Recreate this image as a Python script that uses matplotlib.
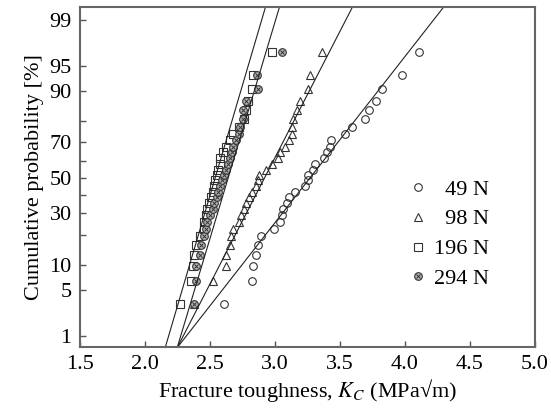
import numpy as np
import matplotlib
matplotlib.use("Agg")
import matplotlib.pyplot as plt
from statistics import NormalDist

plt.rcParams['font.family'] = ['Liberation Serif', 'DejaVu Serif']
plt.rcParams['mathtext.fontset'] = 'stix'

# cumulative probability (%) of each ranked specimen (same ranks for all loads)
cum_prob = [3.2, 6.5, 9.7, 12.9, 16.1, 19.4, 22.6, 25.8, 29.0, 32.3,
            35.5, 38.7, 41.9, 45.2, 48.4, 51.6, 54.8, 58.1, 61.3, 64.5,
            67.7, 71.0, 74.2, 77.4, 80.6, 83.9, 87.1, 90.3, 93.5, 96.8]

# fracture toughness K_C (MPa sqrt(m)), sorted, for each indentation load
kc_49 = [2.61, 2.82, 2.83, 2.85, 2.87, 2.89, 2.99, 3.04, 3.05, 3.06,
         3.09, 3.11, 3.15, 3.23, 3.25, 3.25, 3.29, 3.31, 3.38, 3.40,
         3.42, 3.43, 3.54, 3.59, 3.69, 3.72, 3.78, 3.82, 3.98, 4.11]
kc_98 = [2.38, 2.52, 2.62, 2.62, 2.65, 2.66, 2.68, 2.72, 2.74, 2.76,
         2.78, 2.80, 2.82, 2.85, 2.87, 2.88, 2.93, 2.98, 3.02, 3.04,
         3.08, 3.11, 3.13, 3.13, 3.14, 3.17, 3.19, 3.25, 3.27, 3.36]
kc_196 = [2.27, 2.35, 2.37, 2.38, 2.39, 2.42, 2.45, 2.45, 2.47, 2.48,
          2.49, 2.51, 2.52, 2.53, 2.54, 2.55, 2.56, 2.58, 2.58, 2.60,
          2.62, 2.65, 2.68, 2.72, 2.76, 2.78, 2.79, 2.82, 2.83, 2.98]
kc_294 = [2.38, 2.39, 2.39, 2.42, 2.43, 2.45, 2.47, 2.48, 2.50, 2.52,
          2.53, 2.55, 2.56, 2.58, 2.59, 2.61, 2.62, 2.64, 2.65, 2.67,
          2.68, 2.70, 2.72, 2.73, 2.75, 2.75, 2.78, 2.87, 2.86, 3.05]

labels = ["49 N", "98 N", "196 N", "294 N"]
# fitted distribution lines: mean and spread
fit_mean = [3.27, 2.92, 2.54, 2.64]
fit_sd = [0.409, 0.269, 0.154, 0.157]

nd = NormalDist()
_ppf = np.vectorize(nd.inv_cdf, otypes=[float])
_cdf = np.vectorize(nd.cdf, otypes=[float])


def prob_fwd(p):
    p = np.clip(np.asarray(p, dtype=float), 1e-6, 100 - 1e-6) / 100.0
    return _ppf(p)


def prob_inv(z):
    return _cdf(np.asarray(z, dtype=float)) * 100.0


fig = plt.figure(figsize=(5.51, 4.17), dpi=100)
ax = fig.add_axes([0.1452, 0.1679, 0.8258, 0.8153])
ax.set_yscale('function', functions=(prob_fwd, prob_inv))

edge = '#333333'
ms = 5.5
h1, = ax.plot(kc_49, cum_prob, 'o', ms=ms, mfc='none', mec=edge, mew=0.8)
h2, = ax.plot(kc_98, cum_prob, '^', ms=ms, mfc='none', mec=edge, mew=0.8)
h3, = ax.plot(kc_196, cum_prob, 's', ms=ms, mfc='none', mec=edge, mew=0.8)
h4a, = ax.plot(kc_294, cum_prob, 'o', ms=ms, mfc='#b5b5b5', mec=edge, mew=0.8)
h4b, = ax.plot(kc_294, cum_prob, 'x', ms=3.5, color=edge, mew=0.7)

# fitted lines
z_line = np.array([-3.0, 3.0])
for m, s in zip(fit_mean, fit_sd):
    ax.plot(m + s * z_line, prob_inv(z_line), color='#222222', lw=0.8)

ax.set_xlim(1.5, 5.0)
ax.set_ylim(0.64, 99.4)
ax.set_xticks([1.5, 2.0, 2.5, 3.0, 3.5, 4.0, 4.5, 5.0])
ax.set_xticklabels(["1.5", "2.0", "2.5", "3.0", "3.5", "4.0", "4.5", "5.0"])
ax.set_yticks([1, 5, 10, 30, 50, 70, 90, 95, 99])
ax.set_yticklabels(["1", "5", "10", "30", "50", "70", "90", "95", "99"])
ax.set_yticks([20, 40, 60, 80], minor=True)
ax.xaxis.set_minor_locator(matplotlib.ticker.NullLocator())

ax.tick_params(axis='both', which='both', direction='in', length=4,
               width=1.0, color='#555555', labelsize=16, pad=6)
for sp in ax.spines.values():
    sp.set_color('#666666')
    sp.set_linewidth(1.5)

ax.set_xlabel("Fracture toughness, $K_C$ (MPa\u221am)", fontsize=16,
              labelpad=2)
ax.set_ylabel("Cumulative probability [%]", fontsize=16, labelpad=4)

leg_labels = [lab.rjust(5, '\u2007') for lab in labels]
ax.legend([h1, h2, h3, (h4a, h4b)], leg_labels, loc='upper left',
          bbox_to_anchor=(0.69, 0.54), frameon=False, fontsize=16,
          handlelength=0.8, handletextpad=0.3, labelspacing=0.42,
          borderpad=0.2)

fig.savefig("out.png", dpi=100)
